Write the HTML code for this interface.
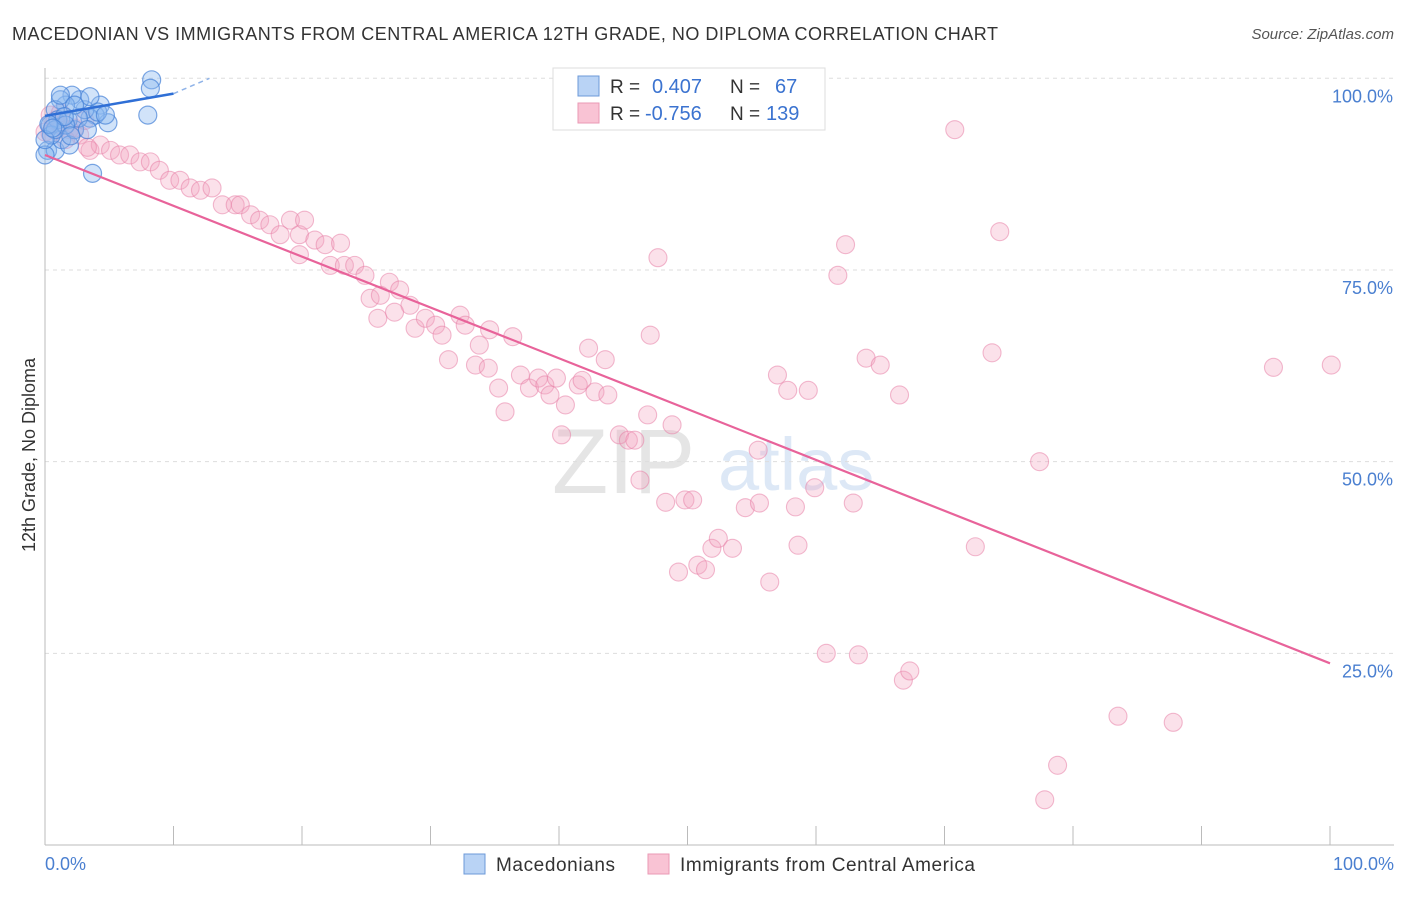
<!DOCTYPE html>
<html><head><meta charset="utf-8">
<style>
body{margin:0;background:#fff;font-family:"Liberation Sans",sans-serif;}
svg text{font-family:"Liberation Sans",sans-serif;}
</style></head>
<body>
<svg width="1406" height="892" xmlns="http://www.w3.org/2000/svg">
<text x="12" y="40" font-size="18" fill="#333" textLength="986" lengthAdjust="spacing">MACEDONIAN VS IMMIGRANTS FROM CENTRAL AMERICA 12TH GRADE, NO DIPLOMA CORRELATION CHART</text>
<text x="1394" y="39" font-size="15" fill="#555" text-anchor="end" font-style="italic">Source: ZipAtlas.com</text>
<g id="watermark" opacity="0.25">
<text x="552" y="493" font-size="92" font-family="Liberation Serif,serif" fill="#999">ZIP</text>
<text x="718" y="490" font-size="74" fill="#7aa7de">atlas</text>
</g>
<g id="grid"></g>
<g id="axes"></g>
<g id="pts"></g>
<g id="trend"></g>
<text transform="translate(35,455) rotate(-90)" font-size="18" fill="#333" text-anchor="middle">12th Grade, No Diploma</text>
<text x="45" y="870" font-size="18" fill="#4a7fd0">0.0%</text>
<text x="1394" y="870" font-size="18" fill="#4a7fd0" text-anchor="end">100.0%</text>
<g>
<rect x="553" y="68" width="272" height="62" fill="#fff" stroke="#ddd"/>
<rect x="578" y="76" width="21" height="20" fill="#b9d3f5" stroke="#6c9ad8"/>
<rect x="578" y="103" width="21" height="20" fill="#f9c3d4" stroke="#ea9ab5"/>
<text x="610" y="93" font-size="19" fill="#333">R =</text><text x="652" y="93" font-size="20" fill="#3b73d0">0.407</text>
<text x="730" y="93" font-size="19" fill="#333">N =</text><text x="775" y="93" font-size="20" fill="#3b73d0">67</text>
<text x="610" y="120" font-size="19" fill="#333">R =</text><text x="645" y="120" font-size="20" fill="#3b73d0">-0.756</text>
<text x="730" y="120" font-size="19" fill="#333">N =</text><text x="766" y="120" font-size="20" fill="#3b73d0">139</text>
</g>
<g>
<rect x="464" y="854" width="21" height="20" fill="#b9d3f5" stroke="#6c9ad8"/>
<text x="496" y="871" font-size="19" fill="#333" textLength="119">Macedonians</text>
<rect x="648" y="854" width="21" height="20" fill="#f9c3d4" stroke="#ea9ab5"/>
<text x="680" y="871" font-size="19" fill="#333" textLength="295">Immigrants from Central America</text>
</g>
</svg>
<script>
const yTicks=[25,50,75,100];
const yTickLabels=["25.0%","50.0%","75.0%","100.0%"];
const xTicks=[0,10,20,30,40,50,60,70,80,90,100];
const blueX=[8.3,8.2,8.0,3.7,4.9,4.3,3.9,3.5,3.1,2.7,2.1,1.6,1.2,0.8,0.4,0.2,0.8,1.3,1.9,2.3,1.8,1.0,0.5,2.6,3.3,4.1,4.7,0,1.2,3.5,2.3,1.6,0.8,0,0.3,1.5,2.0,0.6];
const blueY=[99.8,98.7,95.2,87.6,94.2,96.5,95.2,94.8,95.9,97.2,97.8,96.5,97.2,95.9,93.9,90.6,90.6,92.0,91.3,93.3,94.6,94.6,92.6,94.8,93.3,95.6,95.2,90.0,97.8,97.6,96.5,93.9,93.3,92.0,94.0,95.0,92.5,93.5];
const pinkX=[54.5,70.8,0.4,1.2,1.9,2.7,3.5,4.3,5.1,5.8,6.6,7.4,8.2,8.9,9.7,10.5,11.3,12.1,13.0,13.8,14.8,15.2,16.0,16.7,17.5,18.3,19.1,19.8,20.2,21.0,19.8,21.8,23.0,22.2,23.3,24.1,24.9,25.3,26.1,26.8,27.6,28.4,25.9,27.2,28.8,29.6,30.4,30.9,32.3,32.7,31.4,33.8,33.5,34.6,34.5,35.3,35.8,36.4,37.0,37.7,38.4,38.9,39.3,39.8,40.5,40.2,41.5,41.8,42.3,42.8,43.6,43.8,44.7,45.4,45.9,46.3,46.9,47.1,47.7,48.8,48.3,49.8,50.4,49.3,50.8,51.4,51.9,52.4,53.5,54.5,55.6,55.5,56.4,57.0,57.8,58.4,58.6,59.4,59.9,60.8,61.7,62.3,62.9,63.3,63.9,65.0,66.5,66.8,67.3,72.4,73.7,74.3,77.4,77.8,78.8,83.5,87.8,95.6,100.1,0,0.8,1.6,2.3,3.1,0.4,1.2,3.3];
const pinkY=[99.8,93.3,95.2,93.9,93.3,92.6,90.6,91.3,90.6,90.0,90.0,89.1,89.1,88.0,86.7,86.7,85.7,85.4,85.7,83.5,83.5,83.5,82.2,81.5,80.9,79.6,81.5,79.6,81.5,78.9,77.0,78.3,78.5,75.6,75.6,75.6,74.3,71.3,71.7,73.4,72.4,70.4,68.7,69.5,67.4,68.7,67.8,66.5,69.1,67.8,63.3,65.2,62.6,67.2,62.2,59.6,56.5,66.3,61.3,59.6,60.9,60.0,58.7,60.9,57.4,53.5,60.0,60.6,64.8,59.1,63.3,58.7,53.5,52.8,52.8,47.6,56.1,66.5,76.6,54.8,44.7,45.0,45.0,35.6,36.5,35.9,38.7,40.0,38.7,44.0,44.6,51.5,34.3,61.3,59.3,44.1,39.1,59.3,46.6,25.0,74.3,78.3,44.6,24.8,63.5,62.6,58.7,21.5,22.7,38.9,64.2,80.0,50.0,5.9,10.4,16.8,16.0,62.3,62.6,93.0,94.5,92.0,93.5,94.5,92.8,95.5,91.0];
const pinkTrend=[[0,90.0],[100,23.7]];
const blueTrend=[[0,95.1],[10,98.0]];
const blueTrendExt=[[10,98.0],[12.8,100]];
const NS="http://www.w3.org/2000/svg";
const X=v=>45+v*12.85, Y=v=>845-v*7.667;
function mk(tag,attrs,parent){const e=document.createElementNS(NS,tag);for(const k in attrs)e.setAttribute(k,attrs[k]);document.getElementById(parent).appendChild(e);return e;}
yTicks.forEach((t,i)=>{
 const l=mk('line',{x1:45,x2:1394,y1:Y(t),y2:Y(t),stroke:'#ddd','stroke-dasharray':'4,4'},'grid');
 
 
 const tx=mk('text',{x:1393,y:Y(t)+24,'font-size':18,fill:'#4a7fd0','text-anchor':'end'},'grid');
 tx.textContent=yTickLabels[i];
 
 
});
const ax=mk('line',{x1:45,x2:45,y1:68,y2:845,stroke:'#bbb'},'axes');


const bx=mk('line',{x1:45,x2:1394,y1:845,y2:845,stroke:'#bbb'},'axes');


xTicks.forEach(t=>{
 const l=mk('line',{x1:X(t),x2:X(t),y1:826,y2:845,stroke:'#bbb'},'axes');
 
 
});
pinkX.forEach((v,i)=>{
 const c=mk('circle',{cx:X(v),cy:Y(pinkY[i]),r:9,fill:'rgba(244,165,192,0.33)',stroke:'rgba(232,130,168,0.55)','stroke-width':1.1},'pts');
 
 
});
blueX.forEach((v,i)=>{
 const c=mk('circle',{cx:X(v),cy:Y(blueY[i]),r:9,fill:'rgba(140,185,240,0.4)',stroke:'rgba(70,130,215,0.7)','stroke-width':1.2},'pts');
 
 
});
const pt=mk('line',{x1:X(pinkTrend[0][0]),y1:Y(pinkTrend[0][1]),x2:X(pinkTrend[1][0]),y2:Y(pinkTrend[1][1]),stroke:'#e8639a','stroke-width':2.2},'trend');


const bt=mk('line',{x1:X(blueTrend[0][0]),y1:Y(blueTrend[0][1]),x2:X(blueTrend[1][0]),y2:Y(blueTrend[1][1]),stroke:'#2f6fd6','stroke-width':2.5},'trend');


const be=mk('line',{x1:X(blueTrendExt[0][0]),y1:Y(blueTrendExt[0][1]),x2:X(blueTrendExt[1][0]),y2:Y(blueTrendExt[1][1]),stroke:'#8fb3e8','stroke-width':1.5,'stroke-dasharray':'5,4'},'trend');


</script>
</body></html>
